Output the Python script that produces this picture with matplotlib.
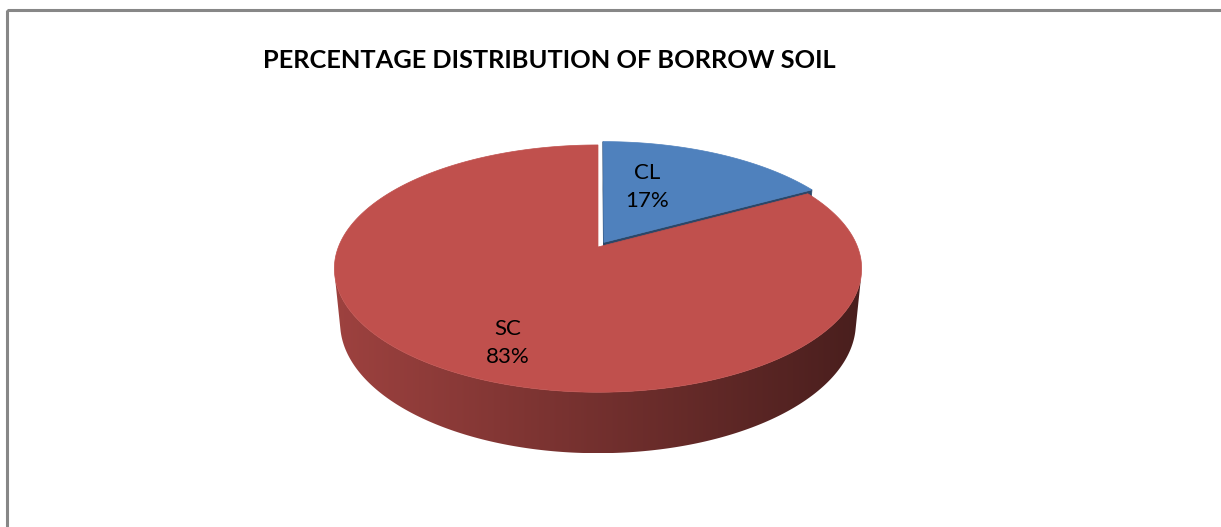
import numpy as np
import matplotlib
matplotlib.use("Agg")
import matplotlib.pyplot as plt
from matplotlib.patches import Polygon, Rectangle

# chart data
categories = ['CL', 'SC']
percent = [17, 83]
colors = ['#4F81BD', '#C0504D']
explode = [0.045, 0.0]

title = 'PERCENTAGE DISTRIBUTION OF BORROW SOIL'

# 3D view settings (pixel canvas)
W, H = 1221, 527
cx, cy = 598, 247          # projected centre of the top face
elev = np.radians(27.5)
dist = 5.08
focal = 1318.7
thick = 0.238
se, ce = np.sin(elev), np.cos(elev)
cam = np.array([0.0, -dist * ce, dist * se])


def project(x, y, z):
    depth = dist + y * ce - z * se
    px = cx + focal * x / depth
    py = cy - focal * (y * se + z * ce) / depth
    return px, py


def shade(hexcol, k):
    rgb = np.array(matplotlib.colors.to_rgb(hexcol))
    return tuple(np.clip(rgb * k, 0, 1))


def facing(pts, normal):
    mid = np.mean(pts, axis=0)
    return np.dot(normal, cam - mid) > 1e-9


fig = plt.figure(figsize=(W / 100, H / 100), dpi=100)
ax = fig.add_axes([0, 0, 1, 1])
ax.set_xlim(0, W)
ax.set_ylim(H, 0)
ax.axis('off')

# outer frame of the chart area
ax.add_patch(Rectangle((6.5, 9.5), W + 20, H + 20, fill=False,
                       edgecolor='#878787', linewidth=2.2))

# slice angles, clockwise from 12 o'clock
fracs = np.array(percent) / sum(percent)
ends = np.cumsum(fracs) * 2 * np.pi
starts = ends - fracs * 2 * np.pi
mids = (starts + ends) / 2

# far slices first
order = np.argsort(-np.cos(mids))

for i in order:
    a0, a1 = starts[i], ends[i]
    ox = explode[i] * np.sin(mids[i])
    oy = explode[i] * np.cos(mids[i])
    th = np.linspace(a0, a1, 400)
    rx = ox + np.sin(th)
    ry = oy + np.cos(th)

    # radial cut faces
    for a, sgn in ((a0, -1), (a1, 1)):
        p_top = (ox + np.sin(a), oy + np.cos(a))
        pts = np.array([[ox, oy, 0], [p_top[0], p_top[1], 0],
                        [p_top[0], p_top[1], -thick], [ox, oy, -thick]])
        normal = sgn * np.array([np.cos(a), -np.sin(a), 0])
        if facing(pts, normal):
            xy = [project(*p) for p in pts]
            ax.add_patch(Polygon(xy, closed=True, facecolor=shade(colors[i], 0.55),
                                 edgecolor=shade(colors[i], 0.55), linewidth=0.5))

    # outer curved side: one polygon filled with a left-to-right gradient
    vis = []
    for t, x, y in zip(th, rx, ry):
        n = np.array([np.sin(t), np.cos(t), 0])
        if np.dot(n, cam - np.array([x, y, -thick / 2])) > 0:
            vis.append((x, y))
    if len(vis) > 1:
        vis = np.array(vis)
        upper = [project(x, y, 0) for x, y in vis]
        lower = [project(x, y, -thick) for x, y in vis[::-1]]
        side = Polygon(upper + lower, closed=True, facecolor='none',
                       edgecolor='none')
        ax.add_patch(side)
        xs = np.array([p[0] for p in upper + lower])
        ys = np.array([p[1] for p in upper + lower])
        x0, x1 = xs.min(), xs.max()
        gx = np.linspace(x0, x1, 600)
        half = (x1 - x0) / 2
        k = 0.6 - 0.22 * (gx - (x0 + x1) / 2) / half
        base = np.array(matplotlib.colors.to_rgb(colors[i]))
        grad = np.clip(k[None, :, None] * base[None, None, :], 0, 1)
        im = ax.imshow(grad, extent=(x0, x1, ys.max(), ys.min()),
                       aspect='auto', interpolation='bilinear', zorder=1)
        im.set_clip_path(side)

    # top face
    top = [project(ox, oy, 0)] + [project(x, y, 0) for x, y in zip(rx, ry)]
    ax.add_patch(Polygon(top, closed=True, facecolor=colors[i],
                         edgecolor=colors[i], linewidth=0.5, zorder=2))

ax.set_xlim(0, W)
ax.set_ylim(H, 0)

# data labels
label_pos = {'CL': (647, 187), 'SC': (508, 343)}
for name, pct in zip(categories, percent):
    x, y = label_pos[name]
    ax.text(x, y, f'{name}\n{pct}%', ha='center', va='center', fontsize=16,
            family='Lato', linespacing=1.45, color='black', zorder=3)

ax.text(549.5, 60, title, ha='center', va='center', fontsize=18.3,
        family='Lato', fontweight='bold', color='black', zorder=3)

fig.savefig('out.png', dpi=100)
